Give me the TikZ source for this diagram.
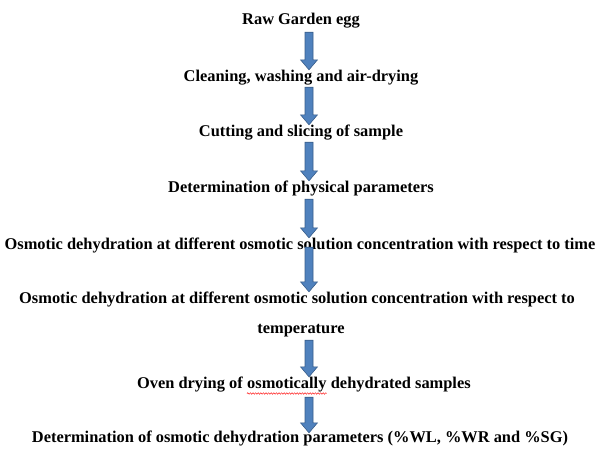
\documentclass[tikz,border=0pt]{standalone}
\usepackage{fontspec}
\setmainfont{Liberation Serif}
\usetikzlibrary{calc,decorations.pathmorphing}
\definecolor{bleu}{HTML}{4F81BD}
\definecolor{bordbleu}{HTML}{385D8A}

\begin{document}
\begin{tikzpicture}[
    x=1pt, y=-1pt,
    every node/.style={font=\fontsize{16.4}{19}\selectfont\bfseries, inner sep=0pt,
        anchor=base, text height=11pt, text depth=4pt},
    fleche/.style={draw=bordbleu, fill=bleu, line width=0.6pt,
        to path={let \p1=(\tikztostart), \p2=(\tikztotarget) in
            (\x1-4pt,\y1) -- (\x1+4pt,\y1) -- (\x1+4pt,\y2+10pt) -- (\x1+8.5pt,\y2+10pt)
            -- (\x1,\y2) -- (\x1-8.5pt,\y2+10pt) -- (\x1-4pt,\y2+10pt) -- cycle}},
    vague/.style={draw=red, line width=0.4pt, decorate,
        decoration={snake, amplitude=0.8pt, segment length=2.6pt}},
]
\useasboundingbox (0,0) rectangle (597,448);
\coordinate (axe) at (309,0);

% Etapes
\node (raw) at (301,24) {Raw Garden egg};
\node (clean) at (301,81) {Cleaning, washing and air-drying};
\node (cut) at (301,136) {Cutting and slicing of sample};
\node (phys) at (301,192) {Determination of physical parameters};
\node (time) at (300,249) {Osmotic dehydration at different osmotic solution concentration with respect to time};
\node (temp) at (297,303) {Osmotic dehydration at different osmotic solution concentration with respect to};
\node (tempb) at (301,333) {temperature};
\node[anchor=base west] (osm) at (247,388) {osmotically};
\node[anchor=base east] (oven) at ([xshift=-4pt]osm.base west) {Oven drying of};
\node[anchor=base west] (ovenb) at ([xshift=4pt]osm.base east) {dehydrated samples};
\node (param) at (300,442) {Determination of osmotic dehydration parameters (\%WL, \%WR and \%SG)};

% Soulignement
\draw[vague] ($(osm.base west)+(0,5.5)$) -- ($(osm.base east)+(0,5.5)$);

% Fleches
\path[fleche] ($(axe |- raw.south)+(0,4)$) to (axe |- clean.north);
\path[fleche] ($(axe |- clean.south)+(0,2)$) to (axe |- cut.north);
\path[fleche] ($(axe |- cut.south)+(0,2)$) to (axe |- phys.north);
\path[fleche] ($(axe |- phys.south)+(0,3)$) to (axe |- time.north);
\path[fleche] ($(axe |- time.south)+(0,-6)$) to (axe |- temp.north);
\path[fleche] ($(axe |- tempb.south)+(0,3)$) to (axe |- osm.north);
\path[fleche] ($(axe |- osm.south)+(0,5)$) to ($(axe |- param.north)+(0,2)$);

\end{tikzpicture}
\end{document}
